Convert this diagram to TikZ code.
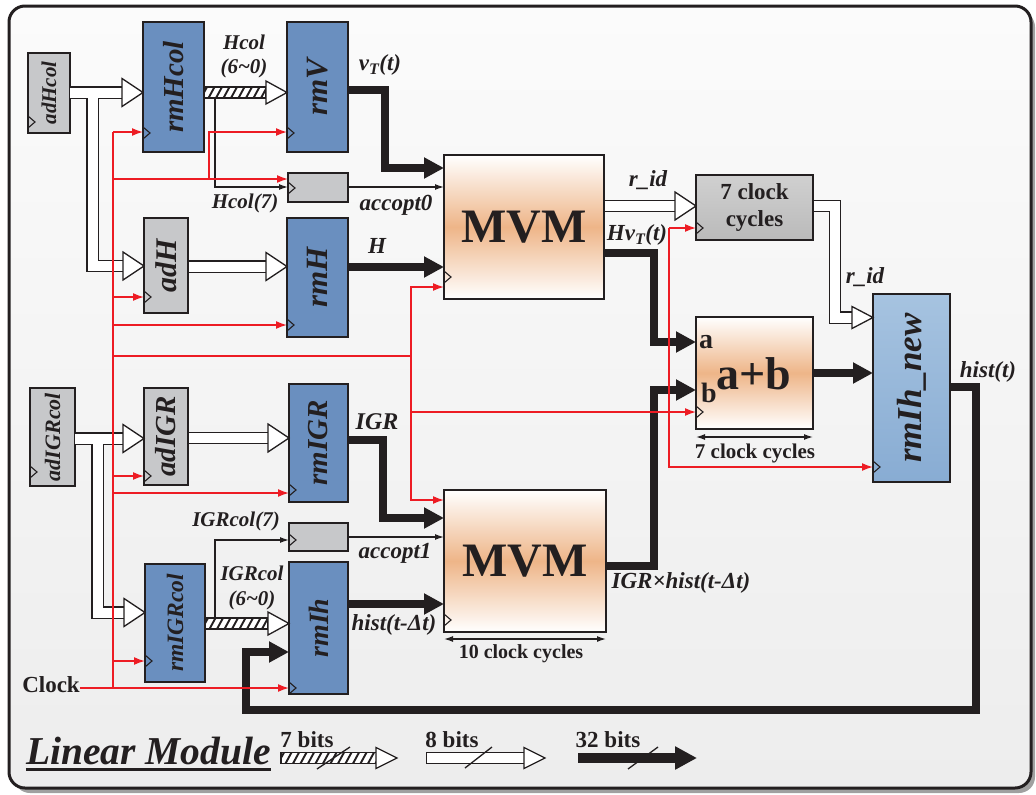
\documentclass[tikz,border=0pt]{standalone}
\usepackage{fontspec}
\setmainfont{Liberation Serif}
\usetikzlibrary{arrows.meta,calc}
\definecolor{bline}{RGB}{35,31,32}
\definecolor{regblue}{RGB}{106,143,191}
\definecolor{reggray}{RGB}{199,200,202}
\definecolor{mvmor}{RGB}{238,181,136}
\definecolor{clkred}{RGB}{237,28,36}
\definecolor{ltbtop}{RGB}{166,195,224}
\definecolor{ltbbot}{RGB}{136,172,211}
\definecolor{gtop}{RGB}{208,208,208}
\definecolor{gbot}{RGB}{186,186,186}
\definecolor{bgtop}{RGB}{251,251,251}
\definecolor{bgbot}{RGB}{237,237,237}
\definecolor{shadowc}{RGB}{160,160,160}
\newcommand\fs[1]{\fontsize{#1}{#1}\selectfont}
\tikzset{
  blk/.style={draw=bline, line width=1.5pt, inner sep=0pt, outer sep=0pt, anchor=north west},
  regb/.style={blk, fill=regblue},
  regg/.style={blk, fill=reggray},
  calcblk/.style={blk, top color=white, bottom color=white, middle color=mvmor},
  rl/.style={rotate=90, inner sep=0pt, text=bline, font=\bfseries\itshape\fs{#1}},
  lab/.style={inner sep=0pt, text=bline, font=\bfseries\itshape\fs{#1}},
  ulab/.style={inner sep=0pt, text=bline, font=\bfseries\fs{#1}},
  bus/.style={draw=bline, line width=12.5pt, line join=miter,
     postaction={draw=white, line width=10pt, shorten <=0.8pt}},
  wbus/.style={draw=bline, line width=7.5pt, line join=miter, -{Triangle[length=20pt,width=20pt]}},
  ck/.style={draw=clkred, line width=1.6pt},
  cka/.style={ck, -{Latex[length=11pt,width=8pt]}},
  sig/.style={draw=bline, line width=1.3pt, -{Latex[length=9pt,width=6pt]}},
  chv/.style={draw=bline, line width=1.1pt},
  hh/.style={draw=bline, line width=1.3pt, fill=white, line join=miter},
  dim/.style={draw=bline, line width=1.3pt, {Latex[length=9pt,width=6pt]}-{Latex[length=9pt,width=6pt]}},
}
\newcommand\hhead[2][14]{\draw[hh] #2 ++(-21,-#1) -- #2 -- ++(-21,#1) -- cycle;}
\newcommand\chev[2]{\draw[chv] (#1.west |- 0,#2) ++(0,-6) -- ++(7,6) -- ++(-7,6);}
\newcommand\hatchbus[3]{%
  \fill[white] (#1,#3-5.5) rectangle (#2,#3+5.5);
  \begin{scope}
    \clip (#1,#3-5.5) rectangle (#2,#3+5.5);
    \foreach \i in {0,...,14} \draw[bline, line width=1.9pt] (#1+\i*7.5-3,#3+5.5) -- (#1+\i*7.5+3,#3-5.5);
  \end{scope}
  \draw[bline, line width=1.3pt] (#1,#3-5.5) rectangle (#2,#3+5.5);}
\begin{document}
\begin{tikzpicture}[x=1pt,y=-1pt]
\useasboundingbox (0,0) rectangle (1036,795);
\fill[shadowc, rounded corners=16pt] (14,11) rectangle (1035,793);
\shade[top color=bgtop, bottom color=bgbot, rounded corners=16pt] (9,6) rectangle (1031,788);
\draw[bline, line width=3pt, rounded corners=16pt] (9,6) rectangle (1031,788);

% blocks
\node[regg, minimum width=42pt, minimum height=80pt] (adHcol) at (28,53) {};
\node[regb, minimum width=61pt, minimum height=130pt] (rmHcol) at (143,22) {};
\node[regb, minimum width=61pt, minimum height=130pt] (rmV) at (287,22) {};
\node[regg, minimum width=60pt, minimum height=29pt] (acc0) at (288,173) {};
\node[regg, minimum width=44pt, minimum height=95pt] (adH) at (144,218) {};
\node[regb, minimum width=61pt, minimum height=119pt] (rmH) at (287,218) {};
\node[calcblk, minimum width=160pt, minimum height=144pt] (mvm1) at (444,155) {};
\node[blk, top color=gtop, bottom color=gbot, minimum width=117pt, minimum height=65pt] (clk7) at (696,175) {};
\node[calcblk, minimum width=117pt, minimum height=112pt] (adder) at (696,317) {};
\node[blk, top color=ltbtop, bottom color=ltbbot, minimum width=77pt, minimum height=188pt] (rmIhnew) at (873,294) {};
\node[regg, minimum width=45pt, minimum height=98pt] (adIGRcol) at (30,388) {};
\node[regg, minimum width=44pt, minimum height=97pt] (adIGR) at (144,388) {};
\node[regb, minimum width=59pt, minimum height=118pt] (rmIGR) at (289,384) {};
\node[regg, minimum width=59pt, minimum height=28pt] (acc1) at (289,523) {};
\node[regb, minimum width=60pt, minimum height=118pt] (rmIGRcol) at (145,564) {};
\node[regb, minimum width=59pt, minimum height=132pt] (rmIh) at (289,562) {};
\node[calcblk, minimum width=162pt, minimum height=142pt] (mvm2) at (444,490) {};

% rotated names
\node[rl=21] (tadHcol) at (adHcol.center) {adHcol};
\node[rl=29] (trmHcol) at (rmHcol.center) {rmHcol};
\node[rl=31] (trmV) at (rmV.center) {rmV};
\node[rl=30] (tadH) at (adH.center) {adH};
\node[rl=31] (trmH) at (rmH.center) {rmH};
\node[rl=22] (tadIGRcol) at (adIGRcol.center) {adIGRcol};
\node[rl=29] (tadIGR) at (adIGR.center) {adIGR};
\node[rl=29] (trmIGR) at (rmIGR.center) {rmIGR};
\node[rl=23.5] (trmIGRcol) at (rmIGRcol.center) {rmIGRcol};
\node[rl=28] (trmIh) at (rmIh.center) {rmIh};
\node[rl=35] (trmIhnew) at (rmIhnew.center) {rmIh\_new};

% block texts
\node[ulab=48] (tmvm1) at (mvm1.center) {MVM};
\node[ulab=48] (tmvm2) at (mvm2.center) {MVM};
\node[ulab=46] (tadd) at (754,374) {a+b};
\node[ulab=28, anchor=base west] (ta) at (699,348) {a};
\node[ulab=28, anchor=base west] (tb) at (701,402) {b};
\node[inner sep=0pt, text=bline, align=center, font=\bfseries\fontsize{23}{28}\selectfont] (tclk7) at (clk7.center) {7 clock\\cycles};

% 8-bit buses
\draw[bus] (adHcol.east |- 0,92.5) -- ($(rmHcol.west |- 0,92.5)+(-21,0)$)
   (92.5,92.5) -- (92.5,266) -- ($(adH.west |- 0,266)+(-21,0)$);
\draw[bus] (adH.east |- 0,266.5) -- ($(rmH.west |- 0,266.5)+(-21,0)$);
\draw[bus] (adIGRcol.east |- 0,438.5) -- ($(adIGR.west |- 0,438.5)+(-21,0)$)
   (97.5,438.5) -- (97.5,612.5) -- ($(rmIGRcol.west |- 0,612.5)+(-21,0)$);
\draw[bus] (adIGR.east |- 0,438) -- ($(rmIGR.west |- 0,438)+(-21,0)$);
\draw[bus] (mvm1.east |- 0,206) -- ($(clk7.west |- 0,206)+(-21,0)$);
\draw[bus] (clk7.east |- 0,206) -- (835,206) -- (835,317.5) -- ($(rmIhnew.west |- 0,317.5)+(-21,0)$);
\hhead{(rmHcol.west |- 0,92.5)}
\hhead{(adH.west |- 0,266)}
\hhead{(rmH.west |- 0,266.5)}
\hhead{(adIGR.west |- 0,438.5)}
\hhead{(rmIGRcol.west |- 0,612.5)}
\hhead{(rmIGR.west |- 0,438)}
\hhead{(clk7.west |- 0,206)}
\hhead[11]{(rmIhnew.west |- 0,317.5)}

% 7-bit buses
\hatchbus{204}{266}{92.5}
\hhead[11.5]{(rmV.west |- 0,92.5)}
\hatchbus{205}{268}{623.5}
\hhead[11.5]{(rmIh.west |- 0,623.5)}

% single signals
\draw[sig] (215,98) -- (215,187) -- (acc0.west |- 0,187);
\draw[sig] (acc0.east |- 0,187) -- (mvm1.west |- 0,187);
\draw[sig] (215,618) -- (215,540) -- (acc1.west |- 0,540);
\draw[sig] (acc1.east |- 0,537) -- (mvm2.west |- 0,537);

% 32-bit buses
\draw[wbus] (rmV.east |- 0,90) -- (385,90) -- (385,168) -- (mvm1.west |- 0,168);
\draw[wbus] (rmH.east |- 0,267) -- (mvm1.west |- 0,267);
\draw[wbus] (rmIGR.east |- 0,440) -- (383,440) -- (383,518) -- (mvm2.west |- 0,518);
\draw[wbus] (rmIh.east |- 0,604) -- (mvm2.west |- 0,604);
\draw[wbus] (mvm1.east |- 0,253) -- (654,253) -- (654,342) -- (adder.west |- 0,342);
\draw[wbus] (mvm2.east |- 0,566) -- (654,566) -- (654,390) -- (adder.west |- 0,390);
\draw[wbus] (adder.east |- 0,373) -- (rmIhnew.west |- 0,373);
\draw[wbus] (rmIhnew.east |- 0,387) -- (976,387) -- (976,710) -- (246,710) -- (246,652) -- (rmIh.west |- 0,652);

% clock
\node[ulab=23] (tclock) at (51,685) {Clock};
\draw[ck] (113,132) -- (113,688);
\draw[cka] (tclock.east |- 0,688) -- (rmIh.west |- 0,688);
\draw[cka] (113,132) -- (rmHcol.west |- 0,132);
\draw[cka] (113,179) -- (acc0.west |- 0,179);
\draw[cka] (209,179) -- (209,132) -- (rmV.west |- 0,132);
\draw[cka] (113,297) -- (adH.west |- 0,297);
\draw[cka] (113,325) -- (rmH.west |- 0,325);
\draw[cka] (113,356) -- (411,356) -- (411,287) -- (mvm1.west |- 0,287);
\draw[cka] (411,356) -- (411,500) -- (mvm2.west |- 0,500);
\draw[cka] (411,412) -- (adder.west |- 0,412);
\draw[cka] (669,228) -- (clk7.west |- 0,228);
\draw[cka] (669,228) -- (669,467) -- (rmIhnew.west |- 0,467);
\draw[cka] (113,476) -- (adIGR.west |- 0,476);
\draw[cka] (113,493) -- (rmIGR.west |- 0,493);
\draw[cka] (113,661) -- (rmIGRcol.west |- 0,661);

% clock marks
\chev{adHcol}{122} \chev{rmHcol}{133} \chev{rmV}{133} \chev{acc0}{188}
\chev{adH}{297} \chev{rmH}{325} \chev{mvm1}{277} \chev{clk7}{228}
\chev{adder}{412} \chev{rmIhnew}{467} \chev{adIGRcol}{472} \chev{adIGR}{476}
\chev{rmIGR}{490} \chev{acc1}{540} \chev{rmIGRcol}{661} \chev{rmIh}{688} \chev{mvm2}{620}

% dimension arrows
\draw[dim] (adder.south west |- 0,437) -- (adder.south east |- 0,437);
\node[ulab=21] (t7cc) at (755,453) {7 clock cycles};
\draw[dim] (mvm2.south west |- 0,639) -- (mvm2.south east |- 0,639);
\node[ulab=20] (t10cc) at (521,654) {10 clock cycles};

% signal labels
\node[lab=21] (l1) at (244,42) {Hcol};
\node[lab=21] (l2) at (244,68) {(6\textasciitilde 0)};
\node[lab=23] (l3) at (380,65) {v\textsubscript{T}(t)};
\node[lab=21] (l4) at (245,203) {Hcol(7)};
\node[lab=23] (l5) at (396,205) {accopt0};
\node[lab=23] (l6) at (377,246) {H};
\node[lab=23] (l7) at (648,180) {r\_id};
\node[lab=23] (l8) at (637,235) {Hv\textsubscript{T}(t)};
\node[lab=23] (l9) at (865,277) {r\_id};
\node[lab=23] (l10) at (988,372) {hist(t)};
\node[lab=24] (l11) at (377,422) {IGR};
\node[lab=21] (l12) at (236,521) {IGRcol(7)};
\node[lab=23] (l13) at (395,553) {accopt1};
\node[lab=21] (l14) at (252,573) {IGRcol};
\node[lab=21] (l15) at (252,600) {(6\textasciitilde 0)};
\node[lab=23] (l16) at (394,625) {hist(t-Δt)};
\node[lab=23] (l17) at (681,583) {IGR×hist(t-Δt)};

% legend
\node[inner sep=0pt, anchor=base, text=bline, font=\bfseries\itshape\fs{39.5}] (tlm) at (148.5,764) {Linear Module};
\draw[bline, line width=3pt] (tlm.base west |- 0,769) -- (tlm.base east |- 0,769);
\hatchbus{281}{377}{758}
\hhead[10.5]{(397,758)}
\draw[bline, line width=1.3pt] (317,769) -- (350,747);
\node[ulab=23] (t7b) at (307,740) {7 bits};
\draw[bus] (426,758) -- (525,758);
\hhead[10.5]{(545,758)}
\draw[bline, line width=1.3pt] (465,768) -- (492,747);
\node[ulab=23] (t8b) at (452,740) {8 bits};
\draw[bline, line width=10pt, -{Triangle[length=22pt,width=22pt]}] (578,758) -- (697,758);
\draw[bline, line width=1.3pt] (628,769) -- (658,747);
\node[ulab=23] (t32b) at (608,740) {32 bits};
\end{tikzpicture}
\end{document}
